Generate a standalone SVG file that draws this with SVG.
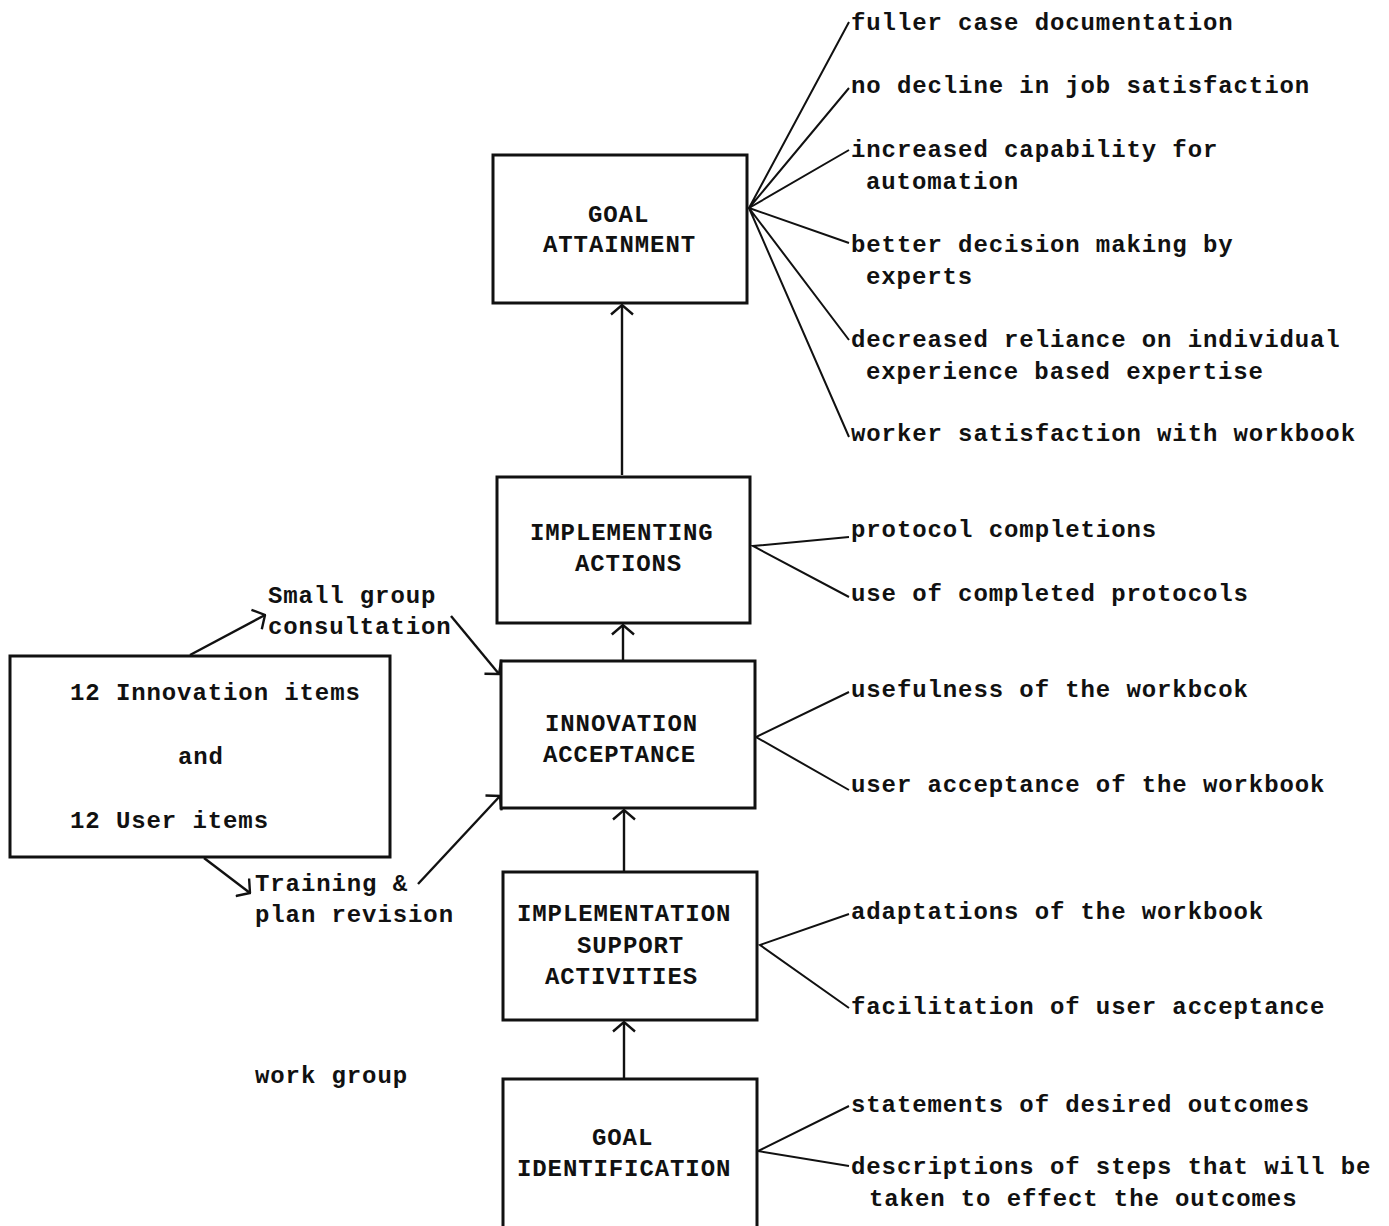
<svg xmlns="http://www.w3.org/2000/svg" width="1389" height="1226" viewBox="0 0 1389 1226">
  <defs>
    <style>
      text { font-family: "Liberation Mono", "DejaVu Sans Mono", monospace; font-size: 24px; letter-spacing: 0.9px; fill: #111; font-weight: bold; }
      .box { fill: #fff; stroke: #111; stroke-width: 3; }
      .link { fill: none; stroke: #111; stroke-width: 2; }
      .arrow { fill: none; stroke: #111; stroke-width: 2.4; marker-end: url(#head); }
    </style>
    <!-- open V arrowhead, wide angle as typed by hand -->
    <marker id="head" viewBox="0 0 12 26" refX="10.5" refY="13" markerWidth="12" markerHeight="26" markerUnits="userSpaceOnUse" orient="auto">
      <path d="M1,2 L10.5,13 L1,24" fill="none" stroke="#111" stroke-width="2.4"/>
    </marker>
  </defs>
  <rect width="1389" height="1226" fill="#fff"/>

  <!-- connectors -->
  <g id="connectors">
    <!-- vertical flow -->
    <line class="arrow" x1="622" y1="475" x2="622" y2="305"/>
    <line class="arrow" x1="623" y1="660" x2="623" y2="625"/>
    <line class="arrow" x1="624" y1="871" x2="624" y2="810"/>
    <line class="arrow" x1="624" y1="1078" x2="624" y2="1022"/>
    <!-- left box feedback loops -->
    <line class="arrow" x1="190" y1="655" x2="265" y2="615"/>
    <line class="arrow" x1="451" y1="616" x2="499" y2="674"/>
    <line class="arrow" x1="204" y1="858" x2="250" y2="893"/>
    <line class="arrow" x1="418" y1="884" x2="500" y2="796"/>
    <!-- goal attainment indicators -->
    <polyline class="link" points="849,22 749,208 849,88"/>
    <polyline class="link" points="849,150 749,208 849,243"/>
    <polyline class="link" points="849,340 749,208 849,437"/>
    <!-- implementing actions indicators -->
    <polyline class="link" points="849,537 753,546 849,597"/>
    <!-- innovation acceptance indicators -->
    <polyline class="link" points="849,692 756,737 849,790"/>
    <!-- support activities indicators -->
    <polyline class="link" points="849,914 760,945 849,1008"/>
    <!-- goal identification indicators -->
    <polyline class="link" points="849,1106 758,1151 849,1166"/>
  </g>

  <g id="goal-attainment">
    <rect class="box" x="493" y="155" width="254" height="148"/>
    <text x="588" y="222">GOAL</text>
    <text x="543" y="252">ATTAINMENT</text>
  </g>

  <g id="implementing-actions">
    <rect class="box" x="497" y="477" width="253" height="146"/>
    <text x="530" y="540">IMPLEMENTING</text>
    <text x="575" y="571">ACTIONS</text>
  </g>

  <g id="innovation-acceptance">
    <rect class="box" x="501" y="661" width="254" height="147"/>
    <text x="545" y="731">INNOVATION</text>
    <text x="543" y="762">ACCEPTANCE</text>
  </g>

  <g id="implementation-support">
    <rect class="box" x="503" y="872" width="254" height="148"/>
    <text x="517" y="921">IMPLEMENTATION</text>
    <text x="577" y="953">SUPPORT</text>
    <text x="545" y="984">ACTIVITIES</text>
  </g>

  <g id="goal-identification">
    <rect class="box" x="503" y="1079" width="254" height="160"/>
    <text x="592" y="1145">GOAL</text>
    <text x="517" y="1176">IDENTIFICATION</text>
  </g>

  <g id="items">
    <rect class="box" x="10" y="656" width="380" height="201"/>
    <text x="70" y="700">12 Innovation items</text>
    <text x="178" y="764">and</text>
    <text x="70" y="828">12 User items</text>
  </g>

  <g id="loop-labels">
    <text x="268" y="603">Small group</text>
    <text x="268" y="634">consultation</text>
    <text x="255" y="891">Training &amp;</text>
    <text x="255" y="922">plan revision</text>
    <text x="255" y="1083">work group</text>
  </g>

  <g id="indicators">
    <text x="851" y="30">fuller case documentation</text>
    <text x="851" y="93">no decline in job satisfaction</text>
    <text x="851" y="157">increased capability for</text>
    <text x="866" y="189">automation</text>
    <text x="851" y="252">better decision making by</text>
    <text x="866" y="284">experts</text>
    <text x="851" y="347">decreased reliance on individual</text>
    <text x="866" y="379">experience based expertise</text>
    <text x="851" y="441">worker satisfaction with workbook</text>
    <text x="851" y="537">protocol completions</text>
    <text x="851" y="601">use of completed protocols</text>
    <text x="851" y="697">usefulness of the workbcok</text>
    <text x="851" y="792">user acceptance of the workbook</text>
    <text x="851" y="919">adaptations of the workbook</text>
    <text x="851" y="1014">facilitation of user acceptance</text>
    <text x="851" y="1112">statements of desired outcomes</text>
    <text x="851" y="1174">descriptions of steps that will be</text>
    <text x="869" y="1206">taken to effect the outcomes</text>
  </g>
</svg>
